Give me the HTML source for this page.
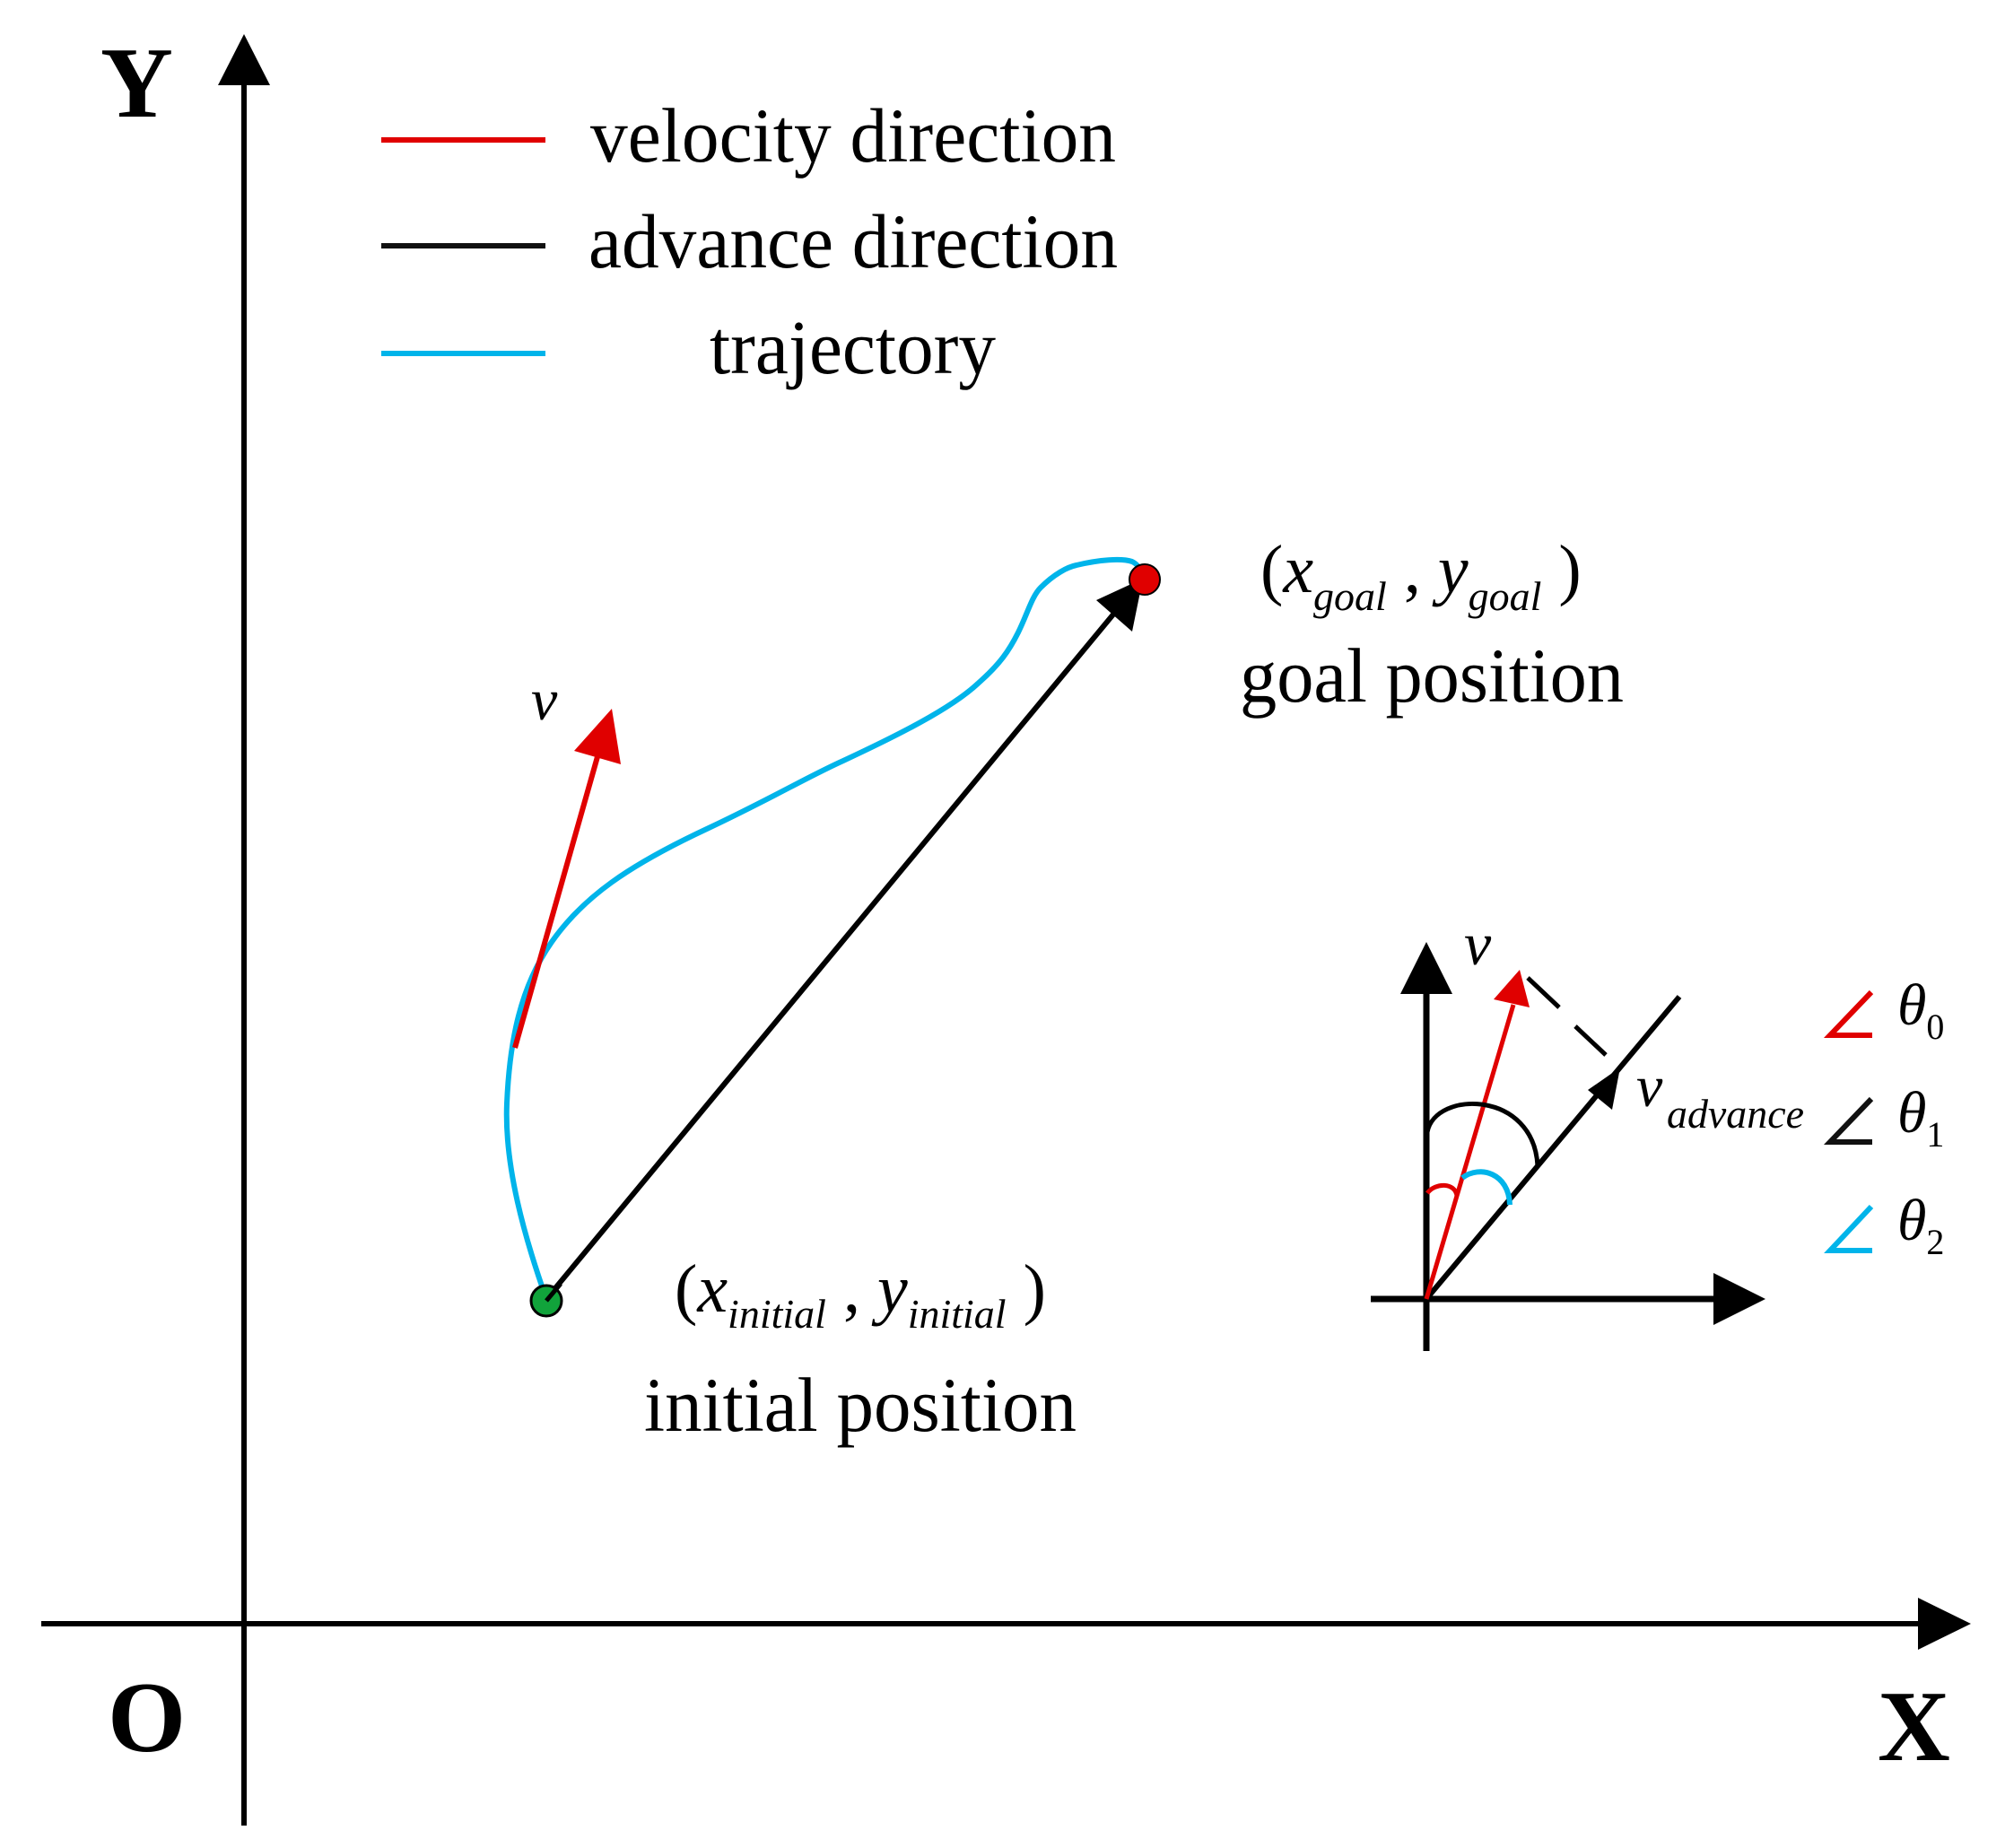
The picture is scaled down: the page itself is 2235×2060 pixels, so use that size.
<!DOCTYPE html>
<html><head><meta charset="utf-8"><style>html,body{margin:0;padding:0;background:#fff}svg{display:block}</style></head>
<body>
<svg width="2235" height="2060" viewBox="0 0 2235 2060" xmlns="http://www.w3.org/2000/svg" font-family="'Liberation Serif', serif">
<rect width="2235" height="2060" fill="#fff"/>
<!-- main axes -->
<line x1="272" y1="90" x2="272" y2="2035" stroke="#000" stroke-width="6"/>
<polygon points="272,38 243,95 301,95" fill="#000"/>
<line x1="46" y1="1810" x2="2145" y2="1810" stroke="#000" stroke-width="6"/>
<polygon points="2197,1810 2138,1781 2138,1839" fill="#000"/>
<text x="112" y="130" font-size="112" font-weight="bold">Y</text>
<text x="120" y="1952" font-size="112" font-weight="bold">O</text>
<text x="2093" y="1962" font-size="112" font-weight="bold">X</text>
<!-- legend -->
<line x1="425" y1="156" x2="608" y2="156" stroke="#e00000" stroke-width="6"/>
<line x1="425" y1="274" x2="608" y2="274" stroke="#111" stroke-width="6"/>
<line x1="425" y1="394" x2="608" y2="394" stroke="#00b4ea" stroke-width="6"/>
<text x="658" y="180" font-size="86" textLength="586" lengthAdjust="spacingAndGlyphs">velocity direction</text>
<text x="656" y="298" font-size="86" textLength="590" lengthAdjust="spacingAndGlyphs">advance direction</text>
<text x="791" y="416" font-size="86" textLength="319" lengthAdjust="spacingAndGlyphs">trajectory</text>
<!-- trajectory -->
<path d="M609,1448 C585,1380 562,1300 565,1230 C568,1160 580,1100 615,1050 C650,1000 700,965 790,923 C860,890 900,866 940,848 C1000,820 1060,790 1090,762 C1115,740 1125,725 1135,705 C1145,685 1150,665 1160,655 C1175,640 1190,632 1200,630 C1225,624 1250,622 1262,626 C1270,630 1272,636 1272,643" fill="none" stroke="#00b4ea" stroke-width="6"/>
<!-- red velocity vector -->
<line x1="574" y1="1168" x2="667" y2="840" stroke="#e00000" stroke-width="6"/>
<polygon points="682,790 640,837 692,852" fill="#e00000"/>
<text x="592" y="802" font-size="66" font-style="italic">v</text>
<!-- black advance arrow -->
<line x1="609" y1="1448" x2="1245" y2="680" stroke="#000" stroke-width="6"/>
<polygon points="1274,645 1222,669 1262,704" fill="#000"/>
<circle cx="609" cy="1450" r="17" fill="#11a33b" stroke="#000" stroke-width="3"/>
<circle cx="1276" cy="646" r="17" fill="#e00000" stroke="#000" stroke-width="2"/>
<line x1="609" y1="1450" x2="625" y2="1431" stroke="#000" stroke-width="5"/>
<!-- labels -->
<text x="1405" y="660" font-size="76">(<tspan font-style="italic">x</tspan><tspan font-size="46" font-style="italic" dy="20">goal</tspan><tspan dy="-20"> , </tspan><tspan font-style="italic">y</tspan><tspan font-size="46" font-style="italic" dy="20">goal</tspan><tspan dy="-20"> )</tspan></text>
<text x="1382" y="782" font-size="86" textLength="428" lengthAdjust="spacingAndGlyphs">goal position</text>
<text x="752" y="1462" font-size="76">(<tspan font-style="italic">x</tspan><tspan font-size="46" font-style="italic" dy="18">initial</tspan><tspan dy="-18"> , </tspan><tspan font-style="italic">y</tspan><tspan font-size="46" font-style="italic" dy="18">initial</tspan><tspan dy="-18"> )</tspan></text>
<text x="718" y="1595" font-size="86" textLength="482" lengthAdjust="spacingAndGlyphs">initial position</text>
<!-- inset -->
<line x1="1590" y1="1100" x2="1590" y2="1506" stroke="#000" stroke-width="7"/>
<polygon points="1590,1050 1561,1108 1619,1108" fill="#000"/>
<line x1="1528" y1="1448" x2="1915" y2="1448" stroke="#000" stroke-width="7"/>
<polygon points="1968,1448 1910,1419 1910,1477" fill="#000"/>
<line x1="1590" y1="1448" x2="1872" y2="1111" stroke="#000" stroke-width="6"/>
<polygon points="1806,1190 1770,1215 1797,1237" fill="#000"/>
<line x1="1590" y1="1448" x2="1687" y2="1120" stroke="#e00000" stroke-width="5"/>
<polygon points="1694,1081 1665,1114 1705,1123" fill="#e00000"/>
<line x1="1703" y1="1090" x2="1738" y2="1123" stroke="#000" stroke-width="5"/>
<line x1="1756" y1="1144" x2="1790" y2="1176" stroke="#000" stroke-width="5"/>
<path d="M1591,1262 C1600,1215 1710,1215 1714,1300" fill="none" stroke="#000" stroke-width="5"/>
<path d="M1630,1313 C1650,1298 1682,1308 1683,1343" fill="none" stroke="#00b4ea" stroke-width="6"/>
<path d="M1591,1330 C1600,1318 1622,1318 1624,1333" fill="none" stroke="#e00000" stroke-width="5"/>
<text x="1632" y="1075" font-size="68" font-style="italic">v</text>
<text x="1824" y="1233" font-size="66" font-style="italic">v</text>
<text x="1858" y="1257" font-size="46" font-style="italic" textLength="153" lengthAdjust="spacingAndGlyphs">advance</text>
<!-- angle legend -->
<polyline points="2086,1106 2040,1154 2087,1154" fill="none" stroke="#e00000" stroke-width="6"/>
<polyline points="2086,1225 2040,1273 2087,1273" fill="none" stroke="#111" stroke-width="6"/>
<polyline points="2086,1345 2040,1394 2087,1394" fill="none" stroke="#00b4ea" stroke-width="6"/>
<text x="2115" y="1142" font-size="66" font-style="italic">θ<tspan font-size="40" font-style="normal" dy="16">0</tspan></text>
<text x="2115" y="1262" font-size="66" font-style="italic">θ<tspan font-size="40" font-style="normal" dy="16">1</tspan></text>
<text x="2115" y="1382" font-size="66" font-style="italic">θ<tspan font-size="40" font-style="normal" dy="16">2</tspan></text>
</svg>
</body></html>
